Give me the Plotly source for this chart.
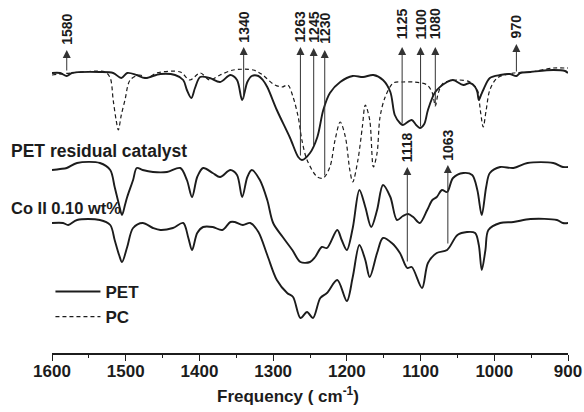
import plotly.graph_objects as go

# ---- data (wavenumber cm-1, arbitrary stacked intensity; axis reversed so larger = lower) ----
pet_x = [1600, 1589, 1580, 1573, 1535, 1517, 1506, 1498, 1485, 1474, 1453, 1433, 1422, 1417, 1411, 1406,
         1399, 1386, 1372, 1358, 1349, 1342, 1335, 1329, 1320, 1314, 1308, 1295, 1277, 1266, 1261, 1250,
         1240, 1232, 1223, 1209, 1192, 1178, 1164, 1151, 1141, 1135, 1128, 1124, 1112, 1106, 1101, 1095,
         1090, 1080, 1064, 1056, 1042, 1033, 1026, 1023, 1021, 1018, 1015, 1006, 992, 979, 970, 965,
         951, 920, 904, 900]
pet_y = [73, 73, 76, 73, 72, 73, 78, 73, 75, 78, 74, 75, 80, 90, 98, 88,
         77, 78, 82, 75, 80, 100, 82, 76, 76, 80, 87, 110, 138, 157, 160, 153,
         137, 110, 93, 82, 76, 77, 75, 80, 92, 115, 123, 125, 120, 125, 128, 124,
         110, 92, 82, 80, 85, 83, 87, 92, 100, 95, 90, 78, 75, 74, 76, 73,
         72, 70, 71, 73]

pc_x = [1600, 1575, 1528, 1521, 1517, 1513, 1510, 1506, 1501, 1494, 1481, 1471, 1458, 1426, 1413, 1399,
        1386, 1372, 1354, 1327, 1314, 1300, 1288, 1280, 1273, 1266, 1261, 1254, 1240, 1232, 1223, 1216,
        1209, 1202, 1196, 1192, 1185, 1179, 1175, 1169, 1164, 1159, 1155, 1148, 1137, 1124, 1110, 1091,
        1084, 1080, 1076, 1069, 1050, 1033, 1023, 1019, 1015, 1011, 1006, 996, 974, 951, 920, 904, 900]
pc_y = [75, 73, 72, 78, 100, 120, 130, 115, 100, 80, 75, 78, 73, 72, 80, 73,
        80, 75, 70, 70, 75, 84, 87, 85, 97, 117, 140, 160, 177, 178, 167, 140,
        122, 137, 170, 182, 160, 127, 105, 120, 167, 153, 117, 97, 83, 82, 82, 85,
        93, 106, 93, 83, 80, 82, 90, 110, 127, 110, 90, 78, 73, 72, 68, 68, 68]

res_x = [1600, 1589, 1580, 1566, 1535, 1521, 1515, 1509, 1505, 1501, 1498, 1490, 1485, 1477, 1463, 1444,
         1426, 1417, 1410, 1403, 1395, 1382, 1372, 1358, 1349, 1342, 1335, 1329, 1318, 1308, 1300, 1287,
         1274, 1263, 1250, 1243, 1234, 1227, 1213, 1207, 1200, 1192, 1183, 1175, 1167, 1159, 1151, 1141,
         1132, 1124, 1117, 1110, 1101, 1091, 1084, 1078, 1071, 1064, 1056, 1042, 1030, 1023, 1017, 1011,
         1006, 992, 974, 955, 920, 907, 900]
res_y = [170, 169, 168, 163, 163, 170, 187, 205, 215, 205, 197, 180, 168, 170, 172, 172,
         168, 180, 197, 177, 168, 173, 177, 170, 175, 197, 177, 170, 180, 200, 223, 237,
         250, 262, 262, 257, 247, 248, 230, 240, 250, 228, 190, 207, 227, 210, 185, 197,
         220, 216, 214, 217, 223, 210, 200, 197, 190, 192, 178, 173, 175, 190, 215, 187,
         173, 167, 168, 163, 163, 167, 167]

co_x = [1600, 1585, 1578, 1566, 1535, 1521, 1515, 1509, 1505, 1498, 1490, 1477, 1463, 1453, 1436, 1422,
        1415, 1410, 1403, 1395, 1382, 1369, 1358, 1352, 1341, 1331, 1320, 1308, 1295, 1281, 1273, 1263,
        1254, 1246, 1236, 1227, 1213, 1200, 1192, 1183, 1175, 1169, 1159, 1151, 1139, 1128, 1118, 1112,
        1098, 1090, 1078, 1064, 1050, 1037, 1026, 1021, 1017, 1012, 1008, 992, 974, 951, 915, 907, 900]
co_y = [223, 223, 225, 220, 220, 225, 240, 255, 262, 247, 228, 223, 228, 230, 228, 223,
        238, 250, 233, 227, 227, 230, 222, 222, 225, 223, 232, 255, 280, 293, 297, 318,
        312, 318, 298, 293, 280, 301, 277, 245, 260, 277, 253, 238, 243, 253, 268, 267,
        288, 263, 253, 250, 235, 232, 233, 245, 270, 250, 230, 223, 222, 219, 220, 223, 223]

# peak markers (wavenumber, arrow base, arrow tip, label centre)
top_peaks = [1580, 1340, 1263, 1245, 1230, 1125, 1100, 1080, 970]
top_base = [72, 100, 157, 147, 177, 125, 128, 107, 73]
top_tip = [50, 47, 47, 48, 50, 47, 47, 47, 44]
top_label = [29, 27, 27, 27, 28, 24, 24, 24, 26]

low_peaks = [1118, 1063]
low_base = [263, 245]
low_tip = [167, 165]
low_label = [147, 145]

x_ticks = [1600, 1500, 1400, 1300, 1200, 1100, 1000, 900]

FONT = "Arial, Liberation Sans, sans-serif"
INK = "#1c1c1c"

fig = go.Figure()
fig.add_trace(go.Scatter(x=pet_x, y=pet_y, mode="lines", name="PET",
                         line=dict(color=INK, width=1.9, shape="spline", smoothing=0.9)))
fig.add_trace(go.Scatter(x=pc_x, y=pc_y, mode="lines", name="PC",
                         line=dict(color=INK, width=1.2, dash="4px,3px", shape="spline", smoothing=0.9)))
fig.add_trace(go.Scatter(x=res_x, y=res_y, mode="lines", showlegend=False,
                         line=dict(color=INK, width=1.9, shape="spline", smoothing=0.9)))
fig.add_trace(go.Scatter(x=co_x, y=co_y, mode="lines", showlegend=False,
                         line=dict(color=INK, width=1.9, shape="spline", smoothing=0.9)))

ann = []
for p, b, t, lab in list(zip(top_peaks, top_base, top_tip, top_label)) + list(zip(low_peaks, low_base, low_tip, low_label)):
    ann.append(dict(x=p, y=t, ax=p, ay=b, xref="x", yref="y", axref="x", ayref="y", text="",
                    showarrow=True, arrowhead=2, arrowsize=1.6, arrowwidth=1, arrowcolor="#333"))
    ann.append(dict(x=p, y=lab, xref="x", yref="y", text=str(p), showarrow=False, textangle=-90,
                    xanchor="center", yanchor="middle",
                    font=dict(family=FONT, size=14, color=INK, weight="bold")))

ann.append(dict(x=-0.083, y=151, xref="paper", yref="y", text="PET residual catalyst", showarrow=False,
                xanchor="left", yanchor="middle", font=dict(family=FONT, size=17.5, color=INK, weight="bold")))
ann.append(dict(x=-0.083, y=208, xref="paper", yref="y", text="Co II 0.10 wt%", showarrow=False,
                xanchor="left", yanchor="middle", font=dict(family=FONT, size=16.5, color=INK, weight="bold")))
ann.append(dict(x=0.458, y=-0.12, xref="paper", yref="paper", text="Frequency ( cm<sup>-1</sup>)",
                showarrow=False, xanchor="center", yanchor="middle",
                font=dict(family=FONT, size=17, color=INK, weight="bold")))

fig.update_layout(
    width=584, height=412,
    margin=dict(l=52, r=16, t=0, b=59),
    paper_bgcolor="white", plot_bgcolor="white",
    showlegend=True,
    legend=dict(x=-0.003, y=0.224, xanchor="left", yanchor="top", bgcolor="rgba(0,0,0,0)",
                font=dict(family=FONT, size=17, color=INK, weight="bold"),
                itemwidth=45, tracegroupgap=0),
    annotations=ann,
    xaxis=dict(range=[1600, 900], showgrid=False, zeroline=False,
               showline=True, linecolor=INK, linewidth=1.5,
               ticks="outside", ticklen=6, tickwidth=1.3, tickcolor=INK,
               tickvals=x_ticks, ticktext=[str(v) for v in x_ticks],
               ticklabelstandoff=-4,
               minor=dict(dtick=50, ticks="outside", ticklen=3, tickcolor=INK, tickwidth=1),
               tickfont=dict(family=FONT, size=17, color=INK, weight="bold")),
    yaxis=dict(range=[353, 0], visible=False, showgrid=False, zeroline=False),
)

fig.write_html("out.html")
